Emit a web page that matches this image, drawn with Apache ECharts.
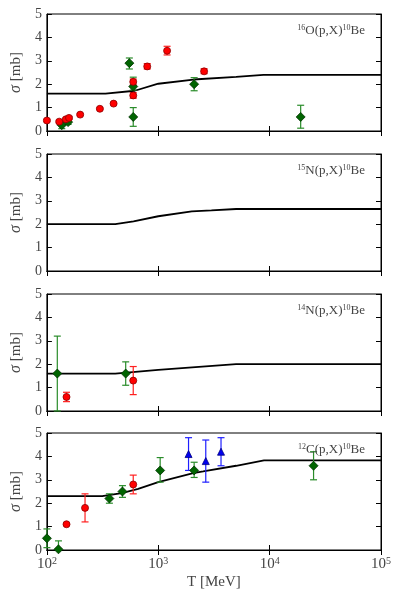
<!DOCTYPE html>
<html>
<head>
<meta charset="utf-8">
<script src="https://cdn.jsdelivr.net/npm/echarts@6/dist/echarts.min.js"></script>
<style>
  html, body { margin: 0; padding: 0; background: #fff; }
  #chart { width: 399px; height: 598px; }
</style>
</head>
<body>
<div id="chart"></div>
<script>
// panel titles (target nucleus)
const panelTargets = [['16', 'O'], ['15', 'N'], ['14', 'N'], ['12', 'C']]
const yTicks = [0, 1, 2, 3, 4, 5]

// model curves [T MeV, sigma mb]
const o16Model = [[100, 1.6], [336, 1.6], [615, 1.72], [1000, 2.02], [2070, 2.2], [5000, 2.31], [8800, 2.4], [100000, 2.4]]
const n15Model = [[100, 2.0], [411, 2.0], [600, 2.12], [1000, 2.34], [2000, 2.55], [3000, 2.59], [5000, 2.65], [100000, 2.65]]
const n14Model = [[100, 1.6], [411, 1.6], [1000, 1.76], [5000, 2.0], [100000, 2.0]]
const c12Model = [[100, 2.3], [314, 2.3], [470, 2.43], [660, 2.61], [1000, 2.9], [2060, 3.29], [2530, 3.36], [5000, 3.6], [8900, 3.83], [100000, 3.83]]

// measurements [T, sigma, low, high]
const o16Red = [[100, 0.45, 0.4, 0.5], [129, 0.4, 0.35, 0.45], [148, 0.5, 0.45, 0.55], [158, 0.56, 0.5, 0.62],
  [199, 0.7, 0.66, 0.74], [299, 0.95, 0.91, 0.99], [397, 1.17, 1.12, 1.22], [596, 2.1, 1.97, 2.22],
  [596, 1.52, 1.4, 1.64], [796, 2.76, 2.65, 2.88], [1200, 3.43, 3.25, 3.62], [2580, 2.55, 2.45, 2.66]]
const o16Green = [[136, 0.25, 0.1, 0.4], [155, 0.38, 0.28, 0.48], [550, 2.9, 2.65, 3.12], [596, 1.9, 1.75, 2.3],
  [596, 0.6, 0.2, 1.0], [2100, 2.0, 1.72, 2.28], [19000, 0.6, 0.12, 1.1]]
const n14Red = [[150, 0.6, 0.4, 0.8], [596, 1.3, 0.7, 1.9]]
const n14Green = [[124, 1.6, 0, 3.2], [510, 1.6, 1.1, 2.1]]
const c12Red = [[150, 1.1, 1.05, 1.15], [220, 1.8, 1.2, 2.4], [596, 2.8, 2.4, 3.2]]
const c12Green = [[100, 0.5, 0.1, 0.9], [127, 0.03, 0, 0.39], [364, 2.2, 2.0, 2.4], [477, 2.5, 2.25, 2.75],
  [1040, 3.4, 2.9, 3.95], [2100, 3.4, 3.1, 3.75], [24800, 3.6, 3.0, 4.2]]
const c12Blue = [[1870, 4.1, 3.4, 4.8], [2670, 3.8, 2.9, 4.7], [3660, 4.2, 3.6, 4.8]]

const panels = [
  { model: o16Model, red: o16Red, green: o16Green, blue: [] },
  { model: n15Model, red: [], green: [], blue: [] },
  { model: n14Model, red: n14Red, green: n14Green, blue: [] },
  { model: c12Model, red: c12Red, green: c12Green, blue: c12Blue }
]

const FONT = 'Liberation Serif'
const TXT = '#444'
const tops = [14, 154, 294, 433]
const H = 117

const sup = { fontFamily: FONT, fontSize: 8, color: TXT, verticalAlign: 'top', lineHeight: 13 }

function errRender(params, api) {
  const x = api.value(0)
  const p1 = api.coord([x, api.value(1)])
  const p2 = api.coord([x, api.value(2)])
  const w = 3.5
  const style = { stroke: api.visual('color'), lineWidth: 1.2 }
  return {
    type: 'group',
    children: [
      { type: 'line', shape: { x1: p1[0], y1: p1[1], x2: p2[0], y2: p2[1] }, style },
      { type: 'line', shape: { x1: p1[0] - w, y1: p1[1], x2: p1[0] + w, y2: p1[1] }, style },
      { type: 'line', shape: { x1: p2[0] - w, y1: p2[1], x2: p2[0] + w, y2: p2[1] }, style }
    ]
  }
}

const grid = [], xAxis = [], yAxis = [], series = [], title = []
const kinds = [
  { key: 'green', bar: '#2a8c2a', fill: '#006400', border: '#003300', symbol: 'diamond', size: 9 },
  { key: 'red', bar: '#ff2020', fill: '#ff0000', border: '#8b0000', symbol: 'circle', size: 7 },
  { key: 'blue', bar: '#1f1fff', fill: '#0000ee', border: '#000080', symbol: 'triangle', size: 7 }
]

panels.forEach((p, i) => {
  const last = i === panels.length - 1
  grid.push({ left: 40, right: 18, top: tops[i], height: H, show: true, borderColor: '#000', borderWidth: 1 })
  const xBase = {
    gridIndex: i, type: 'log', logBase: 10, min: 100, max: 100000,
    axisLine: { show: true, lineStyle: { color: '#000', width: 1 } },
    axisTick: { show: true, inside: true, length: 5, lineStyle: { color: '#000' } },
    minorTick: { show: false }, splitLine: { show: false }
  }
  xAxis.push(Object.assign({}, xBase, {
    position: 'bottom',
    axisLabel: {
      show: last, margin: 6, fontFamily: FONT, fontSize: 15, color: TXT,
      formatter: v => '10{s|' + Math.round(Math.log10(v)) + '}',
      rich: { s: Object.assign({}, sup, { fontSize: 10, lineHeight: 17 }) }
    },
    name: last ? 'T [MeV]' : '', nameLocation: 'middle', nameGap: 25,
    nameTextStyle: { fontFamily: FONT, fontSize: 15, color: TXT }
  }))
  xAxis.push(Object.assign({}, xBase, { position: 'top', axisLabel: { show: false } }))
  const yBase = {
    gridIndex: i, type: 'value', min: yTicks[0], max: yTicks[yTicks.length - 1], interval: 1,
    axisLine: { show: true, lineStyle: { color: '#000', width: 1 } },
    axisTick: { show: true, inside: true, length: 5, lineStyle: { color: '#000' } },
    splitLine: { show: false }
  }
  yAxis.push(Object.assign({}, yBase, {
    position: 'left',
    axisLabel: { margin: 5, fontFamily: FONT, fontSize: 14, color: TXT },
    name: '{i|σ} [mb]', nameLocation: 'middle', nameGap: 17, nameRotate: 90,
    nameTextStyle: { fontFamily: FONT, fontSize: 15, color: TXT, rich: { i: { fontFamily: FONT, fontStyle: 'italic', fontSize: 16, color: TXT } } }
  }))
  yAxis.push(Object.assign({}, yBase, { position: 'right', axisLabel: { show: false } }))

  title.push({
    text: '{s|' + panelTargets[i][0] + '}' + panelTargets[i][1] + '(p,X){s|10}Be',
    right: 34, top: tops[i] + 10, padding: 0,
    textStyle: { fontFamily: FONT, fontSize: 13, fontWeight: 'normal', color: TXT, rich: { s: sup } }
  })

  series.push({
    type: 'line', xAxisIndex: 2 * i, yAxisIndex: 2 * i, data: p.model, showSymbol: false,
    lineStyle: { color: '#000', width: 1.8 }, z: 2, silent: true
  })
  kinds.forEach(k => {
    const d = p[k.key]
    if (!d.length) return
    series.push({
      type: 'custom', xAxisIndex: 2 * i, yAxisIndex: 2 * i, renderItem: errRender,
      data: d.map(r => [r[0], r[2], r[3]]), encode: { x: 0, y: [1, 2] },
      itemStyle: { color: k.bar }, z: 3, silent: true
    })
    series.push({
      type: 'scatter', xAxisIndex: 2 * i, yAxisIndex: 2 * i, symbol: k.symbol, symbolSize: k.size,
      data: d.map(r => [r[0], r[1]]),
      itemStyle: { color: k.fill, borderColor: k.border, borderWidth: 0.8, opacity: 1 }, z: 4, silent: true
    })
  })
})

const chart = echarts.init(document.getElementById('chart'))
chart.setOption({ animation: false, title, grid, xAxis, yAxis, series })
</script>
</body>
</html>
